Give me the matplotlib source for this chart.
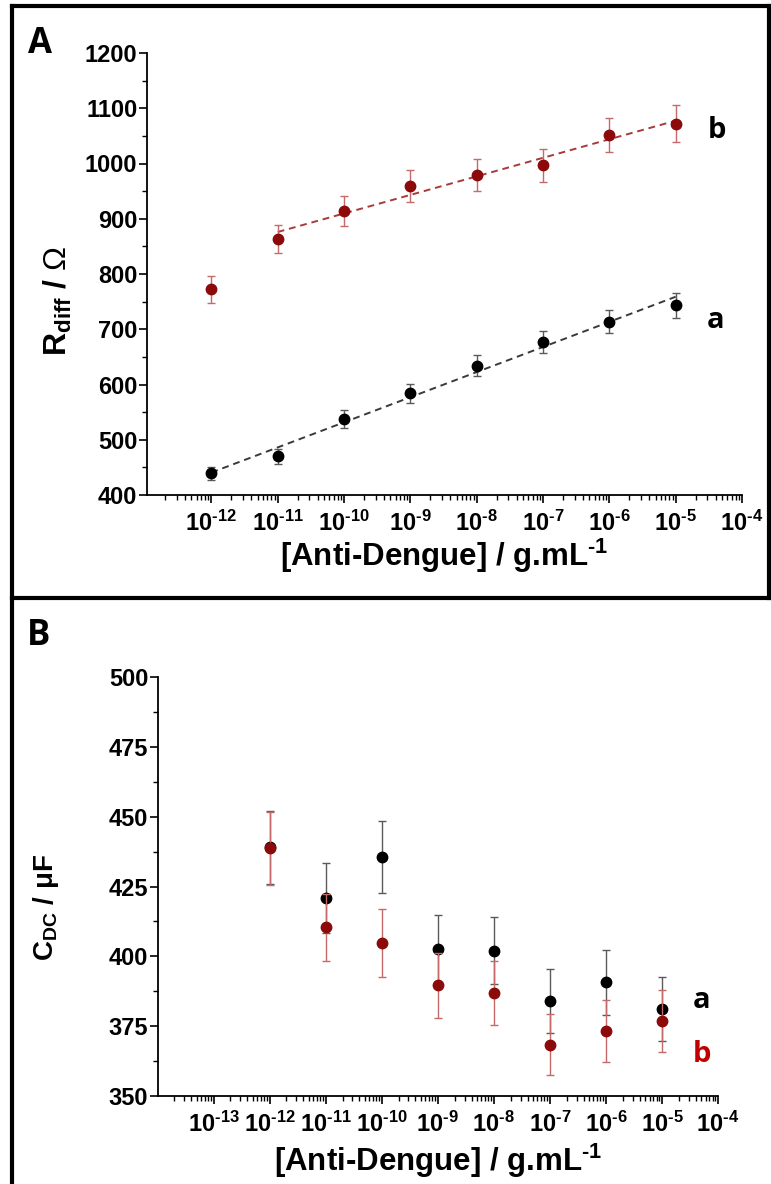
import numpy as np
import matplotlib
matplotlib.use("Agg")
import matplotlib.pyplot as plt
from matplotlib.ticker import LogLocator, FixedLocator, MultipleLocator, FuncFormatter, NullFormatter
from matplotlib.lines import Line2D

plt.rcParams['font.family'] = ['Liberation Sans', 'DejaVu Sans']
plt.rcParams['mathtext.fontset'] = 'custom'
plt.rcParams['mathtext.rm'] = 'Liberation Sans:bold'
plt.rcParams['mathtext.bf'] = 'Liberation Sans:bold'
plt.rcParams['mathtext.it'] = 'Liberation Sans:bold:italic'
plt.rcParams['mathtext.sf'] = 'Liberation Sans'

# ---------------- data ----------------
conc = [1e-12, 1e-11, 1e-10, 1e-9, 1e-8, 1e-7, 1e-6, 1e-5]

# Panel A: R_diff (Ohm)
rdiff_a = [439, 470, 537, 584, 634, 677, 714, 743]
rdiff_a_err = [12, 13, 16, 17, 19, 20, 21, 22]
rdiff_b = [772, 863, 914, 960, 979, 997, 1052, 1072]
rdiff_b_err = [24, 25, 27, 29, 29, 30, 31, 33]

# Panel B: C_DC (uF)
cdc_a = [439, 421, 435.6, 402.8, 402, 384.1, 390.7, 381.2]
cdc_a_err = [13, 12.5, 13, 12, 12, 11.5, 11.7, 11.4]
cdc_b = [438.7, 410.4, 404.7, 389.6, 386.9, 368.4, 373.3, 376.9]
cdc_b_err = [13, 12, 12.2, 11.7, 11.6, 11, 11.1, 11.2]

a_ticks = [1e-12, 1e-11, 1e-10, 1e-9, 1e-8, 1e-7, 1e-6, 1e-5, 1e-4]
b_ticks = [1e-13, 1e-12, 1e-11, 1e-10, 1e-9, 1e-8, 1e-7, 1e-6, 1e-5, 1e-4]

RED = '#8c0a0a'
RED_ERR = '#c46a6a'
BLK = '#000000'
BLK_ERR = '#5a5a5a'

W, H = 771, 1184
fig = plt.figure(figsize=(7.71, 11.84), dpi=100)

def fmt_pow(v, pos):
    e = int(round(np.log10(v)))
    return r'$\mathbf{10^{\text{-%d}}}$' % (-e)

def style_axes(ax, xticks):
    for s in ['top', 'right']:
        ax.spines[s].set_visible(False)
    for s in ['left', 'bottom']:
        ax.spines[s].set_linewidth(1.3)
    ax.set_xscale('log')
    ax.xaxis.set_major_locator(FixedLocator(xticks))
    ax.xaxis.set_minor_locator(LogLocator(base=10, subs=np.arange(2, 10), numticks=50))
    ax.xaxis.set_major_formatter(FuncFormatter(fmt_pow))
    ax.xaxis.set_minor_formatter(NullFormatter())
    ax.tick_params(axis='both', which='major', direction='out', length=6, width=1.2)
    ax.tick_params(axis='both', which='minor', direction='out', length=3.5, width=1.0)
    ax.tick_params(axis='x', which='major', pad=5, labelsize=17)
    ax.tick_params(axis='y', which='major', pad=1, labelsize=17)
    for lab in ax.get_yticklabels():
        lab.set_fontweight('bold')

XLABEL = r'[Anti-Dengue] / g.mL$^{\text{-1}}$'

# ---------------- Panel A ----------------
axA = fig.add_axes([147/W, 1-495/H, (742-147)/W, (495-53)/H])
lx = np.log10(conc)
pa = np.polyfit(lx, rdiff_a, 1)
pb = np.polyfit(lx[1:], rdiff_b[1:], 1)
xa = np.array([lx[0], lx[-1]])
xb = np.array([lx[1], lx[-1]])
axA.plot(10**xa, np.polyval(pa, xa), '--', color='#3a3a3a', lw=1.4, dashes=(3.5, 2.5), zorder=2)
axA.plot(10**xb, np.polyval(pb, xb), '--', color='#a83a3a', lw=1.4, dashes=(3.5, 2.5), zorder=2)
axA.errorbar(conc, rdiff_a, yerr=rdiff_a_err, fmt='o', color=BLK, ecolor=BLK_ERR,
             ms=7.5, capsize=3, elinewidth=1.0, capthick=1.0, zorder=3)
axA.errorbar(conc, rdiff_b, yerr=rdiff_b_err, fmt='o', color=RED, ecolor=RED_ERR,
             ms=7.5, capsize=3, elinewidth=1.0, capthick=1.0, zorder=3)
axA.set_xlim(1.07e-13, 1e-4)
axA.set_ylim(400, 1200)
axA.yaxis.set_major_locator(MultipleLocator(100))
axA.yaxis.set_minor_locator(MultipleLocator(50))
style_axes(axA, a_ticks)
axA.set_ylabel(r'R$_{\mathregular{diff}}$ / $\mathsf{\Omega}$', fontsize=23, fontweight='bold')
axA.yaxis.set_label_coords(-0.122, 0.44)
axA.set_xlabel(XLABEL, fontsize=22.5, fontweight='bold', labelpad=1)

# ---------------- Panel B ----------------
axB = fig.add_axes([158/W, 1-1096/H, (718-158)/W, (1096-677)/H])
axB.errorbar(conc, cdc_a, yerr=cdc_a_err, fmt='o', color=BLK, ecolor=BLK_ERR,
             ms=7.5, capsize=3, elinewidth=1.0, capthick=1.0, zorder=3)
axB.errorbar(conc, cdc_b, yerr=cdc_b_err, fmt='o', color=RED, ecolor=RED_ERR,
             ms=7.5, capsize=3, elinewidth=1.0, capthick=1.0, zorder=4)
axB.set_xlim(1.02e-14, 1e-4)
axB.set_ylim(350, 500)
axB.yaxis.set_major_locator(MultipleLocator(25))
axB.yaxis.set_minor_locator(MultipleLocator(12.5))
style_axes(axB, b_ticks)
axB.set_ylabel(r'C$_{\mathregular{DC}}$ / μF', fontsize=20, fontweight='bold')
axB.yaxis.set_label_coords(-0.173, 0.45)
axB.set_xlabel(XLABEL, fontsize=22.5, fontweight='bold', labelpad=4)

# series labels
lab_font = ['Open Sans', 'DejaVu Sans']
fig.text(717/W, 1-131/H, 'b', fontsize=21, fontweight='bold', family=lab_font,
         ha='center', va='center', color='black')
fig.text(716/W, 1-321/H, 'a', fontsize=21, fontweight='bold', family=lab_font,
         ha='center', va='center', color='black')
fig.text(702/W, 1-1000/H, 'a', fontsize=21, fontweight='bold', family=lab_font,
         ha='center', va='center', color='black')
fig.text(702/W, 1-1055/H, 'b', fontsize=21, fontweight='bold', family=lab_font,
         ha='center', va='center', color='#c00000')

# panel letters
fig.text(40/W, 1-44/H, 'A', fontsize=25, fontweight='bold', family=lab_font,
         ha='center', va='center')
fig.text(39/W, 1-636/H, 'B', fontsize=25, fontweight='bold', family=lab_font,
         ha='center', va='center')

# borders
def fl(x0, y0, x1, y1, lw=3):
    fig.add_artist(Line2D([x0/W, x1/W], [1-y0/H, 1-y1/H], color='black', lw=lw,
                          transform=fig.transFigure, solid_capstyle='projecting'))
fl(12, 6, 769, 6)
fl(12, 6, 12, 1184)
fl(769, 6, 769, 598)
fl(12, 598, 771, 598)

fig.savefig('out.png', dpi=100)
